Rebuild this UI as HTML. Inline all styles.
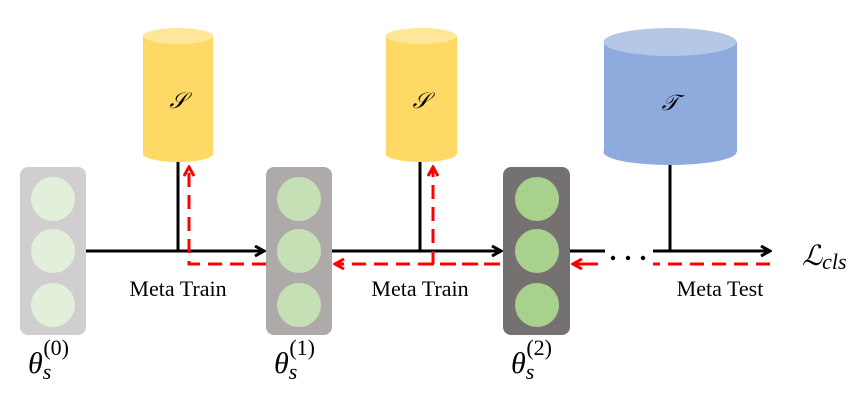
<!DOCTYPE html><html><head><style>body{margin:0;background:#fff}</style></head><body>
<svg width="851" height="409" xmlns="http://www.w3.org/2000/svg" font-family="Liberation Serif, serif">
<defs>
<marker id="a" markerWidth="12" markerHeight="12" refX="10" refY="6" orient="auto" markerUnits="userSpaceOnUse"><path d="M1,1 L10,6 L1,11" fill="none" stroke="#000" stroke-width="3"/></marker>
<marker id="r" markerWidth="12" markerHeight="12" refX="10" refY="6" orient="auto" markerUnits="userSpaceOnUse"><path d="M1,1 L10,6 L1,11" fill="none" stroke="#f00" stroke-width="3"/></marker>
</defs>
<g><rect x="143" y="36" width="70" height="118" fill="#ffd966"/><ellipse cx="178" cy="154" rx="35" ry="8" fill="#ffd966"/><ellipse cx="178" cy="36" rx="35" ry="8" fill="#ffe699"/></g>
<g><rect x="386" y="36" width="71" height="118" fill="#ffd966"/><ellipse cx="421" cy="154" rx="35.5" ry="8" fill="#ffd966"/><ellipse cx="421" cy="36" rx="35.5" ry="8" fill="#ffe699"/></g>
<g><rect x="604" y="42" width="133" height="110" fill="#8faadc"/><ellipse cx="670" cy="152" rx="66.5" ry="13" fill="#8faadc"/><ellipse cx="670" cy="42" rx="66.5" ry="14" fill="#b4c7e7"/></g>
<g font-family="DejaVu Sans, sans-serif" font-style="italic" font-size="22" text-anchor="middle">
<text x="178" y="108">𝒮</text><text x="421" y="108">𝒮</text><text x="670" y="110">𝒯</text></g>
<rect x="20" y="167" width="66" height="168" rx="8" fill="#d0cece"/>
<rect x="266" y="167" width="66" height="168" rx="8" fill="#aeaaaa"/>
<rect x="503" y="167" width="67" height="168" rx="8" fill="#767171"/>
<g fill="#e2efda"><circle cx="53" cy="199" r="22"/><circle cx="53" cy="251" r="22"/><circle cx="53" cy="305" r="22"/></g>
<g fill="#c5e0b4"><circle cx="299" cy="199" r="22"/><circle cx="299" cy="251" r="22"/><circle cx="299" cy="305" r="22"/></g>
<g fill="#a9d18e"><circle cx="537" cy="199" r="22"/><circle cx="537" cy="251" r="22"/><circle cx="537" cy="305" r="22"/></g>
<g stroke="#000" stroke-width="3" fill="none">
<line x1="178" y1="162" x2="178" y2="251"/><line x1="420" y1="162" x2="420" y2="251"/><line x1="670" y1="165" x2="670" y2="251"/>
<line x1="86" y1="251" x2="264" y2="251" marker-end="url(#a)"/>
<line x1="332" y1="251" x2="501" y2="251" marker-end="url(#a)"/>
<line x1="570" y1="251" x2="605" y2="251"/>
<line x1="653" y1="251" x2="770" y2="251" marker-end="url(#a)"/>
</g>
<g fill="#000"><circle cx="613" cy="258" r="2.2"/><circle cx="628" cy="258" r="2.2"/><circle cx="643" cy="258" r="2.2"/></g>
<g stroke="#f00" stroke-width="3" fill="none" stroke-dasharray="14,8">
<polyline points="266,264 189,264 189,167" marker-end="url(#r)"/>
<polyline points="500,264 433,264 433,167" marker-end="url(#r)"/>
<line x1="498" y1="264" x2="335" y2="264" marker-end="url(#r)"/>
<line x1="598" y1="264" x2="573" y2="264" stroke-dasharray="none" marker-end="url(#r)"/>
<line x1="770" y1="264" x2="653" y2="264"/>
</g>
<g font-size="22" text-anchor="middle">
<text x="178" y="296">Meta Train</text><text x="420" y="296">Meta Train</text><text x="720" y="296">Meta Test</text>
</g>
<text x="802" y="265" font-size="28" font-style="italic">ℒ<tspan font-size="22" dy="4">cls</tspan></text>
<g font-size="30" font-style="italic">
<text x="28" y="373">θ<tspan font-size="22" dy="6">s</tspan><tspan font-size="22" font-style="normal" dx="-8" dy="-24">(0)</tspan></text>
<text x="274" y="373">θ<tspan font-size="22" dy="6">s</tspan><tspan font-size="22" font-style="normal" dx="-8" dy="-24">(1)</tspan></text>
<text x="511" y="373">θ<tspan font-size="22" dy="6">s</tspan><tspan font-size="22" font-style="normal" dx="-8" dy="-24">(2)</tspan></text>
</g>
</svg></body></html>
